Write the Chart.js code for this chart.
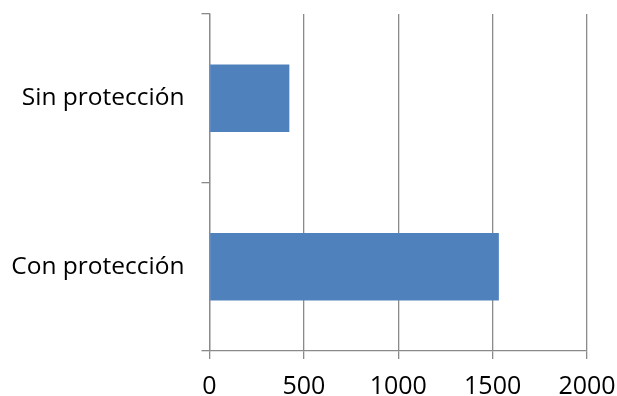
<!DOCTYPE html>
<html>
<head>
<meta charset="utf-8">
<script src="https://cdn.jsdelivr.net/npm/chart.js@4"></script>
<style>
  html, body { margin: 0; padding: 0; background: #ffffff; }
  #wrap { width: 617px; height: 396px; position: relative; }
</style>
</head>
<body>
<div id="wrap"><canvas id="chart"></canvas></div>
<script>
// Categories and values
const categories = ['Sin protección', 'Con protección'];
const values = [423, 1533];
const xTicks = [0, 500, 1000, 1500, 2000];

const axisGray = '#8a8a8a';
const fontFamily = "'Open Sans', 'Liberation Sans', sans-serif";

new Chart(document.getElementById('chart'), {
  type: 'bar',
  data: {
    labels: categories,
    datasets: [{
      data: values,
      backgroundColor: '#4f81bd',
      borderWidth: 0,
      barPercentage: 0.4,
      categoryPercentage: 1.0
    }]
  },
  options: {
    indexAxis: 'y',
    responsive: true,
    maintainAspectRatio: false,
    animation: false,
    layout: { padding: { top: 14, right: 30, left: 0, bottom: 0 } },
    plugins: { legend: { display: false }, tooltip: { enabled: false } },
    scales: {
      x: {
        min: xTicks[0],
        max: xTicks[xTicks.length - 1],
        afterBuildTicks: (scale) => { scale.ticks = xTicks.map(v => ({ value: v })); },
        afterFit: (scale) => { scale.height = 45; scale.paddingLeft = 0; scale.paddingRight = 0; },
        grid: { color: axisGray, lineWidth: 1.3, tickLength: 8, drawTicks: true },
        border: { display: true, color: axisGray, width: 1.3 },
        ticks: { color: '#000', font: { family: fontFamily, size: 25 }, padding: 13, maxRotation: 0, callback: (v) => String(v) }
      },
      y: {
        offset: true,
        afterFit: (scale) => { scale.width = 209.5; scale.paddingTop = 0; scale.paddingBottom = 0; },
        grid: { offset: true, drawOnChartArea: false, drawTicks: true, tickLength: 8, color: axisGray, lineWidth: 1.3 },
        border: { display: true, color: axisGray, width: 1.3 },
        ticks: { color: '#000', font: { family: fontFamily, size: 24.5 }, padding: 17 }
      }
    }
  }
});
</script>
</body>
</html>
